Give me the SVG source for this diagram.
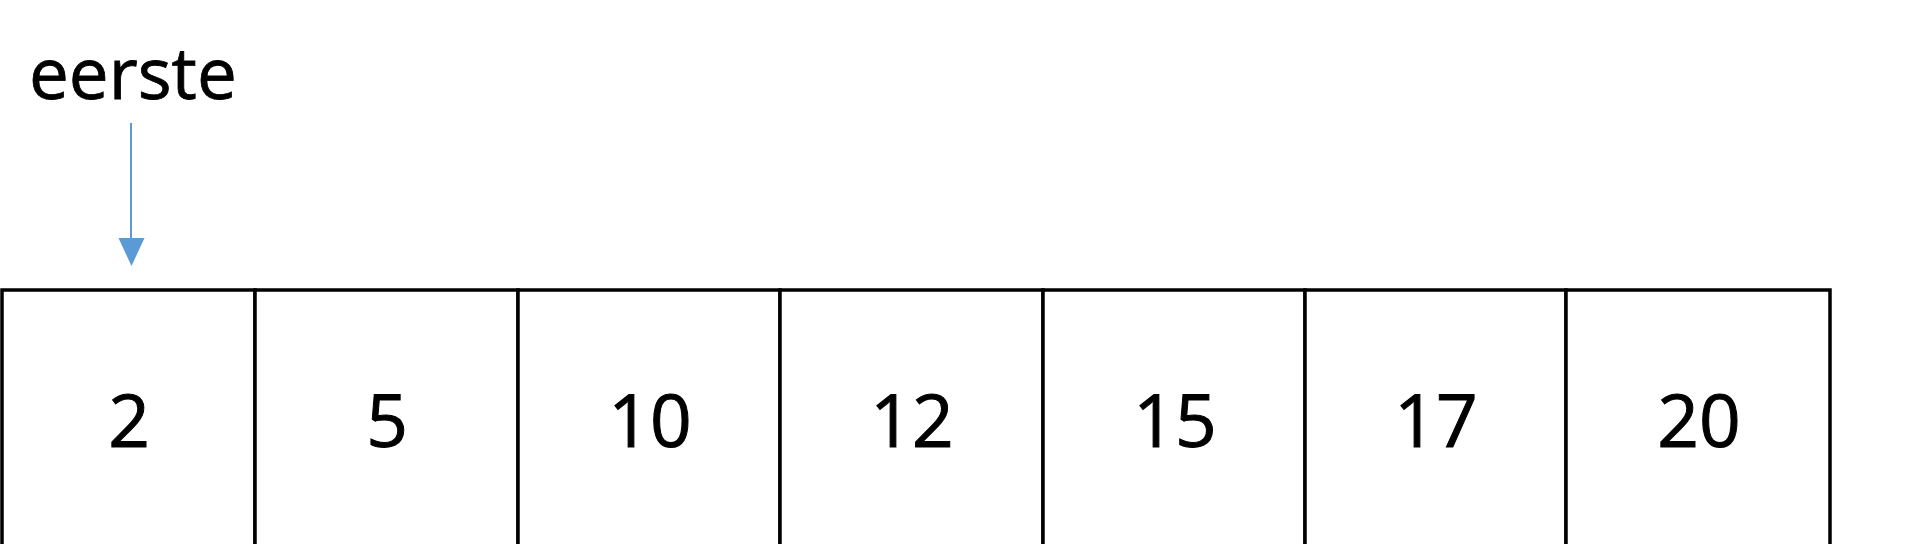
<svg xmlns="http://www.w3.org/2000/svg" width="1920" height="544" viewBox="0 0 1920 544">
<style>
.cell{fill:#fff;stroke:#000;stroke-width:3.5}
.num{font-family:"Open Sans","Noto Sans",sans-serif;font-size:73px;fill:#000;stroke:#000;stroke-width:1;text-anchor:middle}
.lbl{font-family:"Open Sans","Noto Sans",sans-serif;font-size:71px;fill:#000;stroke:#000;stroke-width:0.8}
.conn{stroke:#5B9BD5;stroke-width:2;fill:none}
.head{fill:#5B9BD5}
</style>
<rect width="1920" height="544" fill="#fff"/>
<g id="label-eerste"><text class="lbl" x="29" y="99">eerste</text></g>
<g id="connectors">
<line class="conn" x1="131" y1="123" x2="131" y2="239"/>
<path class="head" d="M118.5,238 L144.5,238 L131.5,266 Z"/>
</g>
<g id="cell-0"><rect class="cell" x="2" y="290" width="253" height="270"/><text class="num" x="129" y="447">2</text></g>
<g id="cell-1"><rect class="cell" x="255" y="290" width="263" height="270"/><text class="num" x="387" y="447">5</text></g>
<g id="cell-2"><rect class="cell" x="518" y="290" width="262" height="270"/><text class="num" x="650" y="447">10</text></g>
<g id="cell-3"><rect class="cell" x="780" y="290" width="263" height="270"/><text class="num" x="912" y="447">12</text></g>
<g id="cell-4"><rect class="cell" x="1043" y="290" width="262" height="270"/><text class="num" x="1175" y="447">15</text></g>
<g id="cell-5"><rect class="cell" x="1305" y="290" width="261" height="270"/><text class="num" x="1436" y="447">17</text></g>
<g id="cell-6"><rect class="cell" x="1566" y="290" width="264" height="270"/><text class="num" x="1699" y="447">20</text></g>
</svg>
